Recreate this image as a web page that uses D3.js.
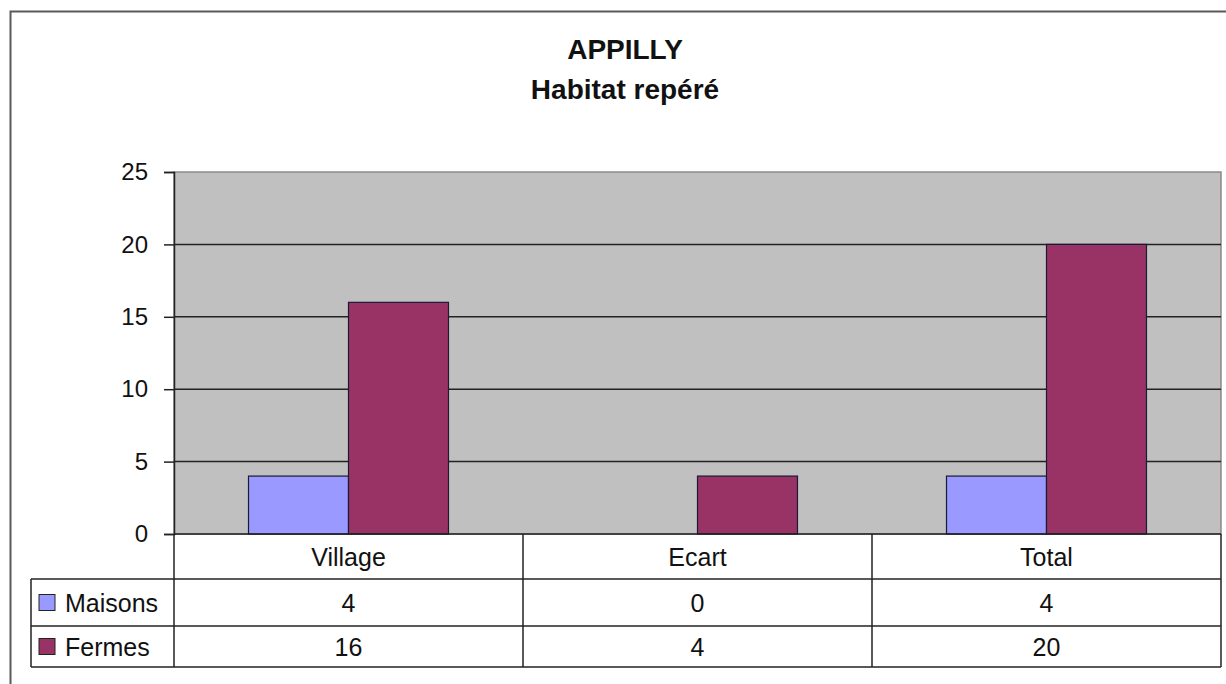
<!DOCTYPE html>
<html>
<head>
<meta charset="utf-8">
<script src="https://cdn.jsdelivr.net/npm/d3@7"></script>
<style>
  body { margin: 0; background: #fff; }
  text { font-family: "Liberation Sans", Arial, sans-serif; fill: #111; }
</style>
</head>
<body>
<div id="chart"></div>
<script>
const width = 1226;
const height = 684;

// data
const categories = ["Village", "Ecart", "Total"];
const seriesNames = ["Maisons", "Fermes"];
const maisons = [4, 0, 4];
const fermes = [16, 4, 20];
const yTicks = [0, 5, 10, 15, 20, 25];
const colors = { Maisons: "#9999ff", Fermes: "#993366" };

const values = { Maisons: maisons, Fermes: fermes };

const plot = { left: 174, right: 1221, top: 172, bottom: 534 };
const rows = [534, 579, 626, 667]; // table row edges
const legendLeft = 31;

const svg = d3.select("#chart").append("svg")
  .attr("width", width)
  .attr("height", height);

// outer chart border
svg.append("rect")
  .attr("x", 10.5).attr("y", 11.5)
  .attr("width", 1240).attr("height", 700)
  .attr("fill", "#fff")
  .attr("stroke", "#5a5a5a")
  .attr("stroke-width", 2);

// title
svg.append("text")
  .attr("x", 625).attr("y", 59)
  .attr("text-anchor", "middle")
  .style("font-size", "28px").style("font-weight", "bold")
  .text("APPILLY");
svg.append("text")
  .attr("x", 625).attr("y", 99)
  .attr("text-anchor", "middle")
  .style("font-size", "28px").style("font-weight", "bold")
  .text("Habitat repéré");

const x0 = d3.scaleBand()
  .domain(categories)
  .range([plot.left, plot.right]);

const bw = x0.bandwidth();
const x1 = d3.scaleBand()
  .domain(seriesNames)
  .range([bw * 0.2135, bw * 0.7865]);

const y = d3.scaleLinear()
  .domain([0, 25])
  .range([plot.bottom, plot.top]);

// plot background
svg.append("rect")
  .attr("x", plot.left).attr("y", plot.top)
  .attr("width", plot.right - plot.left)
  .attr("height", plot.bottom - plot.top)
  .attr("fill", "#c0c0c0")
  .attr("stroke", "#8a8a8a")
  .attr("stroke-width", 1.5);

// gridlines
svg.append("g")
  .selectAll("line")
  .data(yTicks.filter(d => d > 0 && d < 25))
  .join("line")
  .attr("x1", plot.left).attr("x2", plot.right)
  .attr("y1", d => y(d)).attr("y2", d => y(d))
  .attr("stroke", "#222")
  .attr("stroke-width", 1.5);

// bars
const groups = svg.append("g")
  .selectAll("g")
  .data(categories)
  .join("g")
  .attr("transform", d => `translate(${x0(d)},0)`);

groups.selectAll("rect")
  .data((c, i) => seriesNames.map(s => ({ s, v: values[s][i] })))
  .join("rect")
  .filter(d => d.v > 0)
  .attr("x", d => x1(d.s))
  .attr("y", d => y(d.v))
  .attr("width", x1.bandwidth())
  .attr("height", d => y(0) - y(d.v))
  .attr("fill", d => colors[d.s])
  .attr("stroke", "#1a1a33")
  .attr("stroke-width", 1.2);

// y axis
const yAxis = svg.append("g")
  .attr("transform", `translate(${plot.left},0)`)
  .call(d3.axisLeft(y).tickValues(yTicks).tickSize(10).tickPadding(16));
yAxis.select(".domain").attr("stroke", "#222").attr("stroke-width", 1.5);
yAxis.selectAll(".tick line").attr("stroke", "#222").attr("stroke-width", 1.5);
yAxis.selectAll(".tick text")
  .style("font-size", "24px")
  .style("font-family", "Liberation Sans, Arial, sans-serif")
  .attr("fill", "#111");

// data table
const table = svg.append("g");
const lineColor = "#222";

// horizontal lines
table.append("line")
  .attr("x1", plot.left).attr("x2", plot.right)
  .attr("y1", rows[0]).attr("y2", rows[0])
  .attr("stroke", lineColor).attr("stroke-width", 1.5);
table.selectAll("line.h")
  .data(rows.slice(1))
  .join("line")
  .attr("class", "h")
  .attr("x1", legendLeft).attr("x2", plot.right)
  .attr("y1", d => d).attr("y2", d => d)
  .attr("stroke", lineColor).attr("stroke-width", 1.5);

// vertical lines
const colEdges = [plot.left].concat(categories.map(c => x0(c) + bw));
table.selectAll("line.v")
  .data(colEdges)
  .join("line")
  .attr("class", "v")
  .attr("x1", d => d).attr("x2", d => d)
  .attr("y1", rows[0]).attr("y2", rows[3])
  .attr("stroke", lineColor).attr("stroke-width", 1.5);
table.append("line")
  .attr("x1", legendLeft).attr("x2", legendLeft)
  .attr("y1", rows[1]).attr("y2", rows[3])
  .attr("stroke", lineColor).attr("stroke-width", 1.5);

// category labels
table.selectAll("text.cat")
  .data(categories)
  .join("text")
  .attr("class", "cat")
  .attr("x", d => x0(d) + bw / 2)
  .attr("y", (rows[0] + rows[1]) / 2 + 9)
  .attr("text-anchor", "middle")
  .style("font-size", "25px")
  .text(d => d);

// series rows
seriesNames.forEach((s, si) => {
  const top = rows[si + 1], bot = rows[si + 2];
  const mid = (top + bot) / 2;
  table.append("rect")
    .attr("x", 39).attr("y", mid - 8)
    .attr("width", 16).attr("height", 16)
    .attr("fill", colors[s])
    .attr("stroke", "#222").attr("stroke-width", 1);
  table.append("text")
    .attr("x", 65).attr("y", mid + 9)
    .style("font-size", "25px")
    .text(s);
  table.selectAll(null)
    .data(values[s])
    .join("text")
    .attr("x", (d, i) => x0(categories[i]) + bw / 2)
    .attr("y", mid + 9)
    .attr("text-anchor", "middle")
    .style("font-size", "25px")
    .text(d => d);
});
</script>
</body>
</html>
